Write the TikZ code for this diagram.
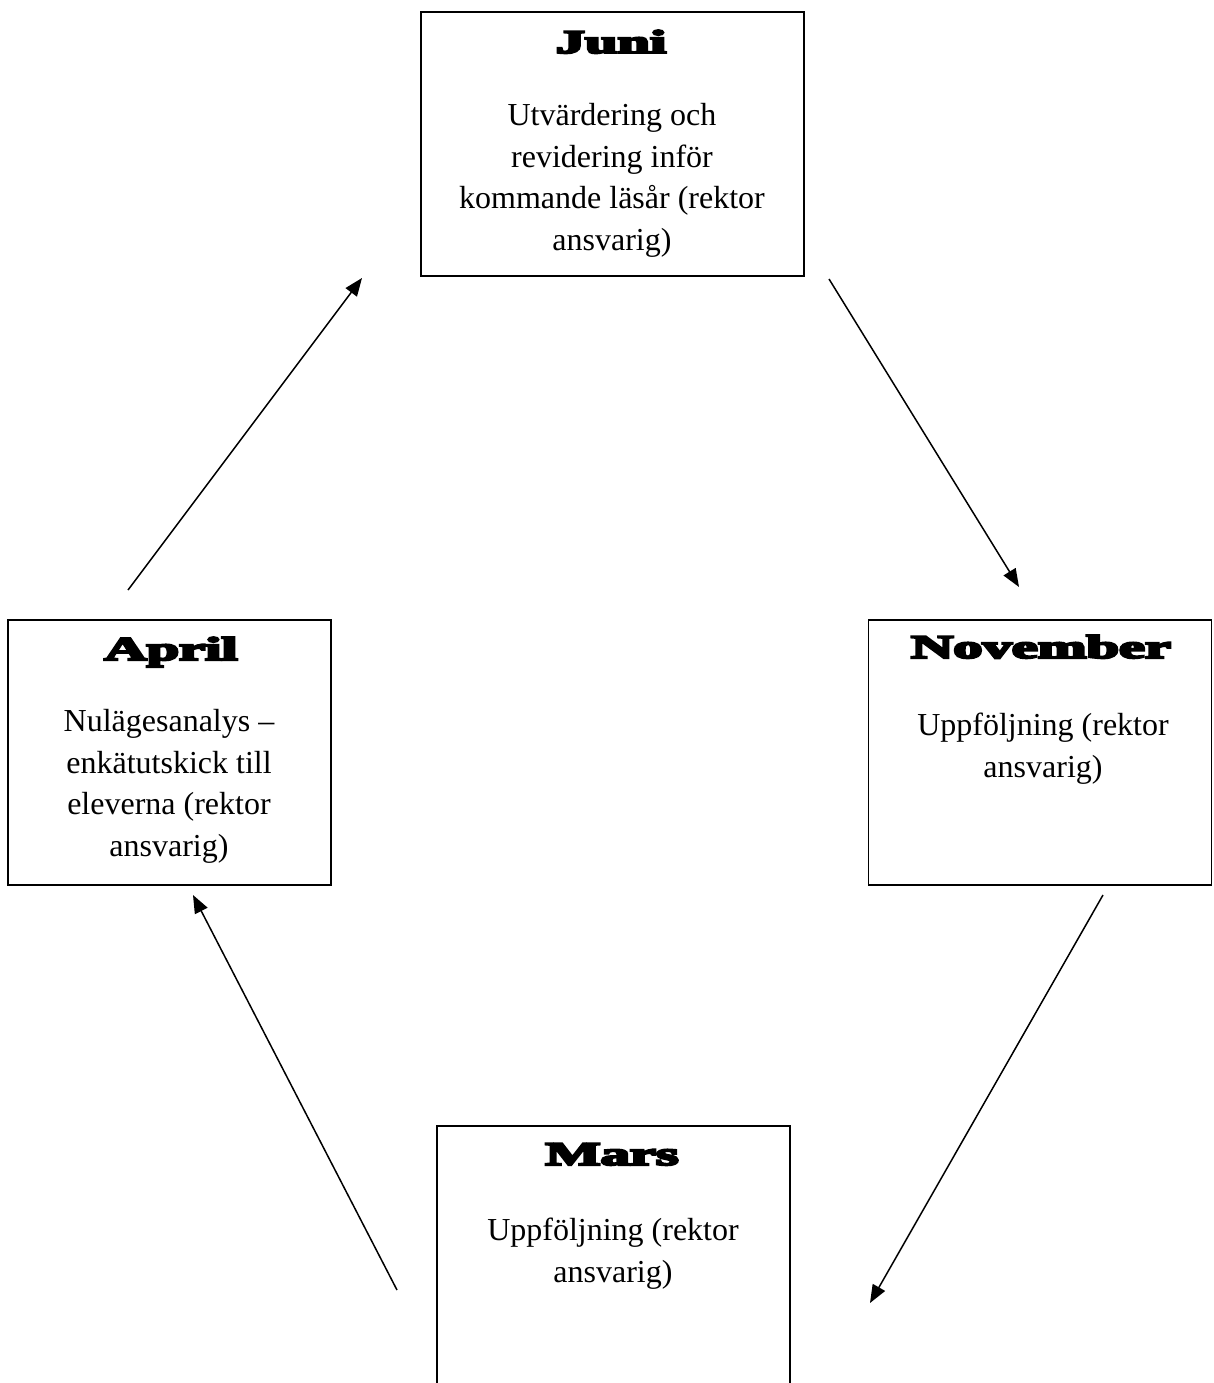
\documentclass[tikz,border=0pt]{standalone}
\usepackage{fontspec}
\setmainfont{Liberation Serif}
\newfontfamily\headfont[BoldFeatures={FakeBold=6}]{Liberation Serif}
\usetikzlibrary{arrows.meta}
\tikzset{
  box/.style={draw=black, line width=1.8pt, inner sep=0pt, fill=none},
  body/.style={align=center, inner sep=0pt, anchor=base, font=\fontsize{32}{41.5}\selectfont},
  head/.style={inner sep=0pt, anchor=base},
  flow/.style={line width=1.5pt, -{Triangle[length=18pt,width=14pt]}}
}
\newcommand{\hd}[1]{\scalebox{1.95}[1.1]{\headfont\bfseries\fontsize{30}{30}\selectfont #1}}
\begin{document}
\begin{tikzpicture}[x=1pt,y=-1pt]
\useasboundingbox (0,0) rectangle (1213,1383);
\clip (0,0) rectangle (1213,1383);
% boxes
\node[box, minimum width=383pt, minimum height=264pt] (juni) at (612.5,144) {};
\node[box, minimum width=323pt, minimum height=265pt] (april) at (169.5,752.5) {};
\node[box, minimum width=343pt, minimum height=265pt] (nov) at (1040,752.5) {};
\node[box, minimum width=353pt, minimum height=300pt] (mars) at (613.5,1276) {};
% headings
\node[head] (hjuni) at (611,53) {\hd{Juni}};
\node[head] (hapril) at (171,660) {\hd{April}};
\node[head] (hnov) at (1041,658) {\hd{November}};
\node[head] (hmars) at (612,1165) {\hd{Mars}};
% bodies (anchor = baseline of last line)
\node[body] (tjuni) at (612,250) {Utvärdering och\\revidering inför\\kommande läsår (rektor\\ansvarig)};
\node[body] (tapril) at (169,856) {Nulägesanalys –\\enkätutskick till\\eleverna (rektor\\ansvarig)};
\node[body] (tnov) at (1043,777) {Uppföljning (rektor\\ansvarig)};
\node[body] (tmars) at (613,1282) {Uppföljning (rektor\\ansvarig)};
% connector ends
\coordinate (a1) at (128,590);
\coordinate (a2) at (362,278);
\coordinate (b1) at (829,279);
\coordinate (b2) at (1019,587);
\coordinate (c1) at (1103,895);
\coordinate (c2) at (870,1303);
\coordinate (d1) at (397,1290);
\coordinate (d2) at (193,895);
\draw[flow] (a1) -- (a2);
\draw[flow] (b1) -- (b2);
\draw[flow] (c1) -- (c2);
\draw[flow] (d1) -- (d2);
\end{tikzpicture}
\end{document}
